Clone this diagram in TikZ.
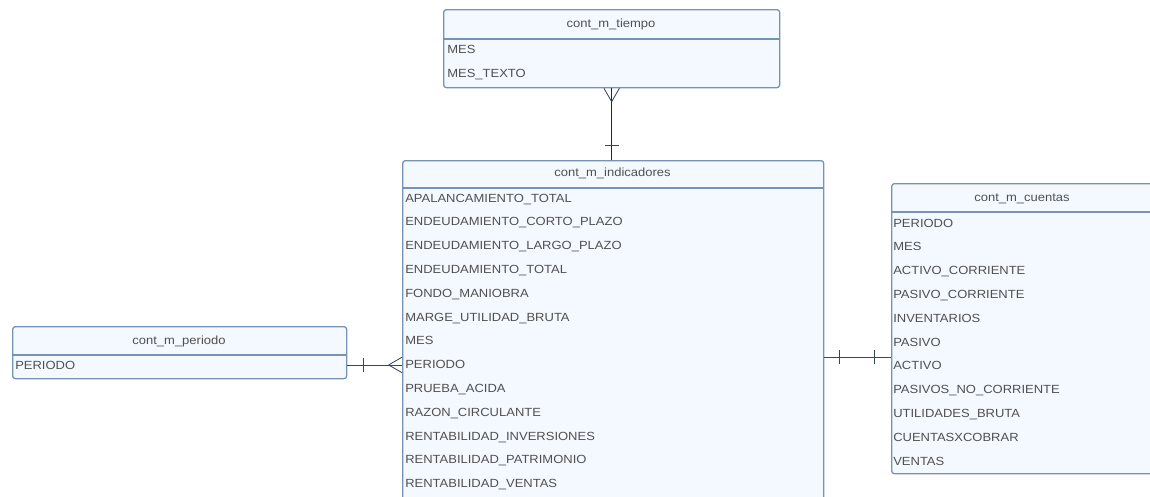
\documentclass[tikz,border=0pt]{standalone}
\usepackage{fontspec}
\setmainfont[FakeStretch=1.1]{Liberation Sans}
\usetikzlibrary{decorations.markings}

\definecolor{rahmen}{RGB}{118,146,180}
\definecolor{fuellung}{RGB}{244,249,255}
\definecolor{schrift}{RGB}{80,80,80}
\definecolor{linie}{RGB}{55,70,95}

\tikzset{
    entity/.style={draw=rahmen, line width=0.9pt, fill=fuellung, rounded corners=2pt, inner sep=0pt, anchor=north west},
    trenn/.style={draw=rahmen, line width=0.9pt},
    kopf/.style={font=\fontsize{8.4}{10}\selectfont, text=schrift, inner sep=0pt, anchor=base},
    feld/.style={font=\fontsize{8.4}{10}\selectfont, text=schrift, inner sep=0pt, anchor=base west},
    rel/.style={draw=linie, line width=0.6pt},
    onebar/.style={postaction={decorate, decoration={markings,
        mark=at position #1 with {\draw[rel] (0,-5pt) -- (0,5pt);}}}},
    crowfoot/.style={postaction={decorate, decoration={markings,
        mark=at position #1 with {\draw[rel] (0,0) -- (9.5pt,5.5pt); \draw[rel] (0,0) -- (9.5pt,-5.5pt);}}}}
}

\begin{document}
\begin{tikzpicture}[x=0.025cm, y=-0.025cm]

\clip (0,0) rectangle (1150,496);

% Tabelle cont_m_tiempo (oben)
\node[entity, minimum width=8.4cm, minimum height=1.95cm] (tbox) at (443,9) {};
\draw[trenn] (443,39) -- (779,39);
\node[kopf] (tkopf) at (611,27) {cont\_m\_tiempo};
\foreach \name [count=\i from 0] in {MES, MES\_TEXTO}
    \node[feld] (tfeld\i) at (447,{53+24*\i}) {\name};

% Tabelle cont_m_indicadores (Mitte)
\node[entity, minimum width=10.525cm, minimum height=8.5cm] (ibox) at (402,160) {};
\draw[trenn] (402,188) -- (823,188);
\node[kopf] (ikopf) at (612.5,176) {cont\_m\_indicadores};
\foreach \name [count=\i from 0] in {APALANCAMIENTO\_TOTAL, ENDEUDAMIENTO\_CORTO\_PLAZO,
    ENDEUDAMIENTO\_LARGO\_PLAZO, ENDEUDAMIENTO\_TOTAL, FONDO\_MANIOBRA,
    MARGE\_UTILIDAD\_BRUTA, MES, PERIODO, PRUEBA\_ACIDA, RAZON\_CIRCULANTE,
    RENTABILIDAD\_INVERSIONES, RENTABILIDAD\_PATRIMONIO, RENTABILIDAD\_VENTAS}
    \node[feld] (ifeld\i) at (405,{202+23.8*\i}) {\name};

% Tabelle cont_m_cuentas (rechts)
\node[entity, minimum width=6.575cm, minimum height=7.25cm] (cbox) at (891,183) {};
\draw[trenn] (891,212) -- (1154,212);
\node[kopf] (ckopf) at (1022,201) {cont\_m\_cuentas};
\foreach \name [count=\i from 0] in {PERIODO, MES, ACTIVO\_CORRIENTE, PASIVO\_CORRIENTE,
    INVENTARIOS, PASIVO, ACTIVO, PASIVOS\_NO\_CORRIENTE, UTILIDADES\_BRUTA,
    CUENTASXCOBRAR, VENTAS}
    \node[feld] (cfeld\i) at (893,{227+23.8*\i}) {\name};

% Tabelle cont_m_periodo (links)
\node[entity, minimum width=8.35cm, minimum height=1.3cm] (pbox) at (12,326) {};
\draw[trenn] (12,355) -- (346,355);
\node[kopf] (pkopf) at (179,344) {cont\_m\_periodo};
\node[feld] (pfeld0) at (15,369) {PERIODO};

% Beziehungen
\coordinate (ic) at (0,357);
\draw[rel, draw=black!85, line width=0.8pt, onebar=10.5pt, crowfoot=-9.5pt] (tbox.south |- ibox.north) -- (tbox.south);
\draw[rel, onebar=11.4pt, crowfoot=-9.5pt] (pbox.east |- pfeld0) -- (ibox.west |- pfeld0);
\draw[rel, onebar=10.7pt, onebar=-12pt] (ibox.east |- ic) -- (cbox.west |- ic);

\end{tikzpicture}
\end{document}
